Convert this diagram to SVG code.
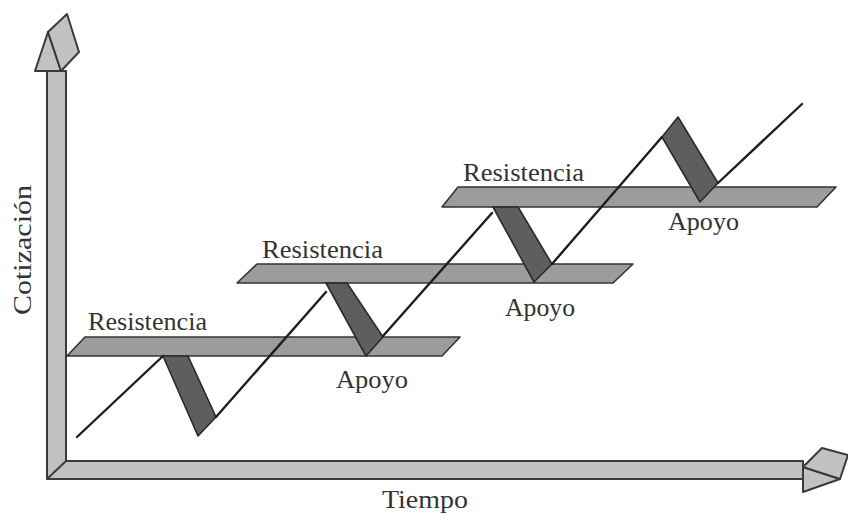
<svg xmlns="http://www.w3.org/2000/svg" width="848" height="514" viewBox="0 0 848 514">
<style>
.ax{fill:#c2c2c2;stroke:#3a3a3a;stroke-width:2;stroke-linejoin:round}
.band{fill:#9c9c9c;stroke:#333;stroke-width:1.6;stroke-linejoin:round}
.rib{fill:#5e5e5e;stroke:#2a2a2a;stroke-width:1.6;stroke-linejoin:round}
.ln{fill:none;stroke:#1e1e1e;stroke-width:2.4;stroke-linecap:round}
.lbl{font-family:"Liberation Serif","DejaVu Serif",serif;font-size:25px;fill:#333}
</style>
<rect width="848" height="514" fill="#fff"/>
<g id="axes">
<polygon class="ax" points="47,479 47,71 66,71 66,461 803,461 803,479"/>
<line x1="47" y1="479" x2="66" y2="461" stroke="#3a3a3a" stroke-width="2"/>
<polygon class="ax" points="35,71 48,32 61,71"/>
<polygon class="ax" points="48,32 67,14 79,52 61,71"/>
<polygon class="ax" points="803,467 803,492 840,479"/>
<polygon class="ax" points="803,467 822,448 848,455 840,479"/>
</g>
<g id="band1"><polygon class="band" points="85,337 460,337 442,356 67,356"/></g>
<g id="band2"><polygon class="band" points="257,264 633,264 613,283 237,283"/></g>
<g id="band3"><polygon class="band" points="458,187 836,187 817,207 442,207"/></g>
<g id="ribbons">
<polygon class="rib" points="163,356 188,356 216,417 198,436"/>
<polygon class="rib" points="326,283 347,283 383,337 366,356"/>
<polygon class="rib" points="493,207 518,207 552,264 534,282"/>
<polygon class="rib" points="662,137 678,117 718,183 700,202"/>
</g>
<g id="connectors">
<line class="ln" x1="77" y1="437" x2="163" y2="356"/>
<line class="ln" x1="216" y1="417" x2="326" y2="292"/>
<line class="ln" x1="383" y1="336" x2="492" y2="213"/>
<line class="ln" x1="552" y1="264" x2="662" y2="137"/>
<line class="ln" x1="718" y1="183" x2="802" y2="104"/>
</g>
<g id="labels">
<text class="lbl" x="88" y="330" textLength="119" lengthAdjust="spacingAndGlyphs">Resistencia</text>
<text class="lbl" x="262" y="258" textLength="121" lengthAdjust="spacingAndGlyphs">Resistencia</text>
<text class="lbl" x="463" y="181" textLength="121" lengthAdjust="spacingAndGlyphs">Resistencia</text>
<text class="lbl" x="336" y="388" textLength="72" lengthAdjust="spacingAndGlyphs">Apoyo</text>
<text class="lbl" x="505" y="316" textLength="70" lengthAdjust="spacingAndGlyphs">Apoyo</text>
<text class="lbl" x="668" y="230" textLength="71" lengthAdjust="spacingAndGlyphs">Apoyo</text>
<text class="lbl" x="382" y="508" textLength="86" lengthAdjust="spacingAndGlyphs">Tiempo</text>
<text class="lbl" transform="translate(31,315) rotate(-90)" x="0" y="0" font-size="26" textLength="130" lengthAdjust="spacingAndGlyphs">Cotización</text>
</g>
</svg>
